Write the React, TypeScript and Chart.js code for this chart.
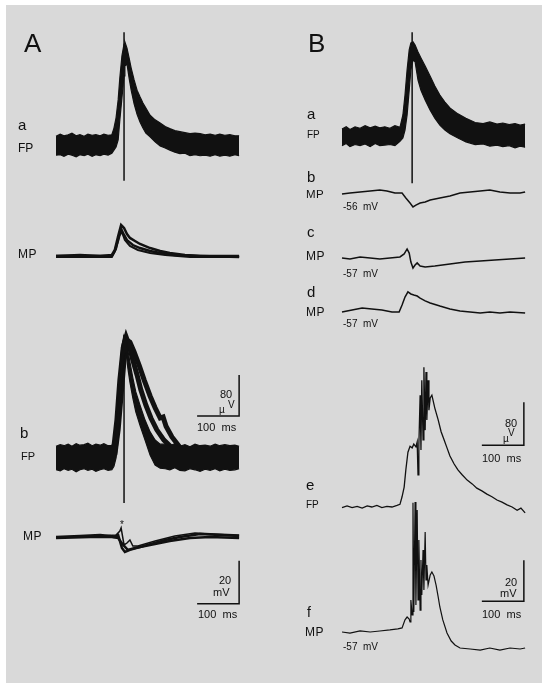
import React, { useEffect, useRef } from "react";
import { Chart, registerables } from "chart.js";

Chart.register(...registerables);

// ===================== DATA =====================
// Time in ms from the start of each sweep. FP in µV, MP in mV (relative to resting level).

// ---- Panel A · a · field potential (envelope of superimposed noisy sweeps) ----
const aaFpT = [0, 10, 19, 29, 38, 48, 57, 67, 76, 86, 95, 105, 114, 124, 133, 138, 143, 148, 152, 157, 162, 164, 169, 174, 179, 186, 193, 200, 207, 214, 224, 236, 248, 260, 271, 283, 295, 307, 319, 331, 343, 355, 367, 379, 390, 402, 414, 426, 436];
const aaFpHi = [19, 23, 20, 22, 25, 20, 22, 19, 23, 21, 22, 20, 23, 21, 22, 35, 55, 90, 133, 176, 199, 203, 191, 172, 152, 129, 109, 96, 84, 74, 60, 51, 45, 38, 34, 30, 28, 26, 24, 25, 24, 22, 23, 21, 23, 21, 22, 20, 20];
const aaFpLo = [-18, -17, -20, -16, -18, -21, -17, -19, -16, -20, -17, -19, -16, -18, -14, -8, -2, 12, 51, 94, 137, 156, 160, 133, 109, 82, 62, 47, 35, 25, 18, 8, 0, -4, -8, -12, -15, -14, -19, -17, -19, -18, -20, -17, -20, -18, -20, -17, -19];
const aaArtT = [162, 162];
const aaArtV = [222, -68];

// ---- Panel A · a · membrane potential (three superimposed sweeps) ----
const aaMp1T = [0, 57, 105, 133, 140, 148, 155, 162, 169, 176, 188, 200, 224, 248, 271, 307, 343, 390, 436];
const aaMp1V = [0, 0.5, 0, 0.5, 2.8, 9.3, 14.4, 13.0, 10.2, 8.4, 7.0, 5.6, 3.7, 2.3, 1.4, 0.5, 0, 0, 0];
const aaMp2T = [0, 133, 140, 148, 155, 162, 169, 183, 200, 224, 248, 283, 343, 436];
const aaMp2V = [0, 0, 2.3, 7.4, 12.6, 9.8, 7.4, 5.1, 3.7, 2.3, 1.4, 0.5, 0, -0.5];
const aaMp3T = [0, 133, 143, 150, 157, 164, 176, 195, 224, 260, 319, 436];
const aaMp3V = [-0.5, -0.5, 3.3, 9.3, 11.2, 7.4, 4.7, 2.8, 1.4, 0.5, -0.5, -0.5];

// ---- Panel A · b · field potential ----
const abFpT = [0, 10, 19, 29, 38, 48, 57, 67, 76, 86, 95, 105, 114, 124, 133, 138, 143, 148, 152, 157, 162, 167, 171, 176, 183, 190, 200, 212, 224, 236, 248, 260, 271, 283, 295, 307, 319, 331, 343, 355, 367, 379, 390, 402, 414, 426, 436];
const abFpHi = [23, 26, 24, 27, 23, 28, 25, 26, 29, 24, 27, 25, 28, 24, 24, 35, 64, 113, 172, 220, 240, 234, 211, 187, 156, 129, 103, 74, 51, 35, 27, 27, 24, 28, 23, 26, 22, 27, 24, 25, 23, 27, 24, 26, 24, 25, 23];
const abFpLo = [-23, -25, -21, -24, -22, -27, -23, -21, -24, -22, -26, -23, -21, -24, -23, -16, 0, 35, 94, 152, 201, 207, 176, 148, 117, 90, 64, 35, 6, -14, -20, -21, -23, -19, -24, -25, -21, -23, -26, -22, -24, -21, -25, -22, -24, -23, -21];
const abFp2T = [138, 145, 152, 160, 167, 174, 183, 193, 202, 214, 226, 240, 257, 276, 295];
const abFp2V = [23, 74, 152, 215, 236, 220, 191, 162, 133, 103, 78, 55, 35, 20, 6];
const abFp3T = [140, 148, 155, 162, 169, 176, 186, 198, 210, 224, 236, 248, 255, 262, 276, 295, 319];
const abFp3V = [6, 55, 123, 191, 230, 226, 207, 181, 152, 121, 98, 78, 80, 62, 41, 21, 6];
const abArtT = [162, 162];
const abArtV = [240, -88];

// ---- Panel A · b · membrane potential ----
const abMp1T = [0, 57, 105, 129, 138, 148, 157, 164, 176, 200, 224, 260, 295, 343, 390, 436];
const abMp1V = [0, 0.5, 0.9, 0.5, 0, 0.9, -5.1, -7.0, -6.0, -4.7, -3.3, -1.4, 0, 1.4, 0.9, 0.5];
const abMp2T = [0, 81, 133, 148, 160, 171, 188, 224, 271, 319, 367, 436];
const abMp2V = [-0.5, 0, 0, -0.5, -3.7, -6.0, -5.1, -3.7, -1.9, -0.5, 0, -0.5];
const abMp3T = [0, 105, 143, 152, 155, 162, 169, 176, 183, 195, 236, 283, 331, 379, 436];
const abMp3V = [0, 0.5, 0.9, 2.8, 4.2, -3.7, -2.8, -1.4, -4.2, -4.2, -1.9, 0.5, 1.9, 1.4, 0.9];

// ---- Panel B · a · field potential ----
const baFpT = [0, 10, 19, 31, 43, 55, 67, 79, 90, 102, 114, 126, 138, 145, 150, 155, 160, 164, 169, 174, 181, 188, 198, 210, 221, 233, 245, 257, 276, 295, 317, 336, 352, 369, 383, 398, 412, 424, 436];
const baFpHi = [15, 19, 14, 19, 16, 21, 17, 20, 17, 19, 16, 21, 18, 41, 78, 125, 162, 175, 177, 171, 158, 147, 132, 113, 95, 78, 65, 54, 43, 35, 27, 25, 28, 24, 26, 23, 25, 22, 24];
const baFpLo = [-16, -12, -18, -14, -16, -13, -18, -12, -16, -15, -14, -16, -8, -2, 13, 41, 87, 125, 143, 140, 106, 87, 69, 50, 35, 22, 13, 6, -2, -9, -14, -13, -17, -15, -18, -16, -20, -17, -19];
const baArtT = [167, 167];
const baArtV = [195, -86];

// ---- Panel B · b, c, d · membrane potential (-56, -57, -57 mV) ----
const bbMpT = [0, 19, 43, 67, 90, 107, 126, 143, 152, 162, 169, 176, 186, 198, 210, 233, 257, 281, 305, 329, 352, 376, 400, 424, 436];
const bbMpV = [-0.5, 0, 0.5, 1.0, 1.5, 1.0, 0, 0, -2.4, -4.9, -6.8, -5.9, -4.9, -4.4, -3.4, -2.4, -1.5, 0, 0.5, 1.0, 1.5, 0.5, 0, 0, 0.5];
const bcMpT = [0, 19, 43, 67, 90, 114, 138, 148, 155, 160, 164, 169, 174, 179, 186, 198, 221, 257, 293, 329, 364, 400, 436];
const bcMpV = [0, -0.5, 0.5, 0, -0.5, 0, 0.5, 2.0, 4.4, 2.4, -2.0, -4.9, -3.4, -2.4, -3.9, -4.4, -3.9, -2.9, -2.0, -1.5, -1.0, -0.5, 0];
const bdMpT = [0, 24, 48, 71, 95, 119, 136, 143, 150, 157, 164, 171, 179, 186, 198, 210, 233, 257, 281, 305, 329, 352, 376, 400, 436];
const bdMpV = [0, 1.0, 2.0, 1.5, 1.0, 0, 0, 3.4, 7.3, 9.8, 8.8, 8.3, 7.8, 6.8, 5.4, 4.4, 2.9, 1.5, 0.5, 0, -0.5, 0, -0.5, 0, -0.5];

// ---- Panel B · e · field potential ----
const beFpT = [0, 12, 24, 36, 48, 60, 71, 83, 95, 107, 119, 131, 138, 143, 148, 152, 157, 162, 167, 171, 176, 179, 181, 183, 186, 188, 190, 193, 195, 198, 200, 202, 205, 207, 210, 214, 221, 229, 236, 243, 250, 257, 267, 276, 286, 298, 310, 321, 333, 345, 357, 369, 381, 393, 405, 417, 426, 436];
const beFpV = [-1, 2, -1, 1, -2, 2, 0, 3, -1, 1, 0, 3, 5, 19, 37, 69, 102, 113, 110, 117, 112, 121, 60, 115, 208, 106, 236, 125, 260, 143, 251, 162, 236, 180, 203, 208, 184, 162, 140, 125, 110, 95, 80, 69, 60, 50, 43, 35, 30, 24, 19, 13, 9, 4, 0, -6, -2, -11];

// ---- Panel B · f · membrane potential (-57 mV) ----
const bfMpT = [0, 19, 43, 67, 90, 114, 133, 143, 150, 155, 160, 162, 164, 167, 169, 171, 174, 176, 179, 181, 183, 186, 188, 190, 193, 195, 198, 200, 202, 205, 210, 214, 219, 224, 229, 233, 240, 250, 260, 269, 281, 305, 329, 352, 376, 400, 424, 436];
const bfMpV = [0, -0.5, 0.5, 0, 0.5, 1.0, 1.5, 2.0, 5.9, 7.3, 6.3, 4.9, 15.6, 8.3, 63.0, 9.8, 63.4, 13.2, 59.5, 15.6, 44.9, 10.7, 35.1, 18.1, 40.0, 20.5, 48.8, 25.4, 32.7, 22.9, 27.8, 29.3, 27.3, 22.9, 17.1, 12.2, 5.9, -0.5, -4.4, -6.3, -7.8, -8.3, -8.8, -7.8, -8.8, -7.8, -8.3, -7.8];

// ---- Calibration bars (100 ms; 80 µV / 20 mV) ----
const barA_FpT = [336, 436, 436];
const barA_FpV = [82, 82, 162];
const barA_MpT = [336, 436, 436];
const barA_MpV = [-31, -31, -11];
const barB_FpT = [333, 433, 433];
const barB_FpV = [115, 115, 195];
const barB_MpT = [333, 433, 433];
const barB_MpV = [15, 15, 35];

// ---- Text ----
type Label = { text: string; x: number; base: number; size: number; ls?: number };
const labels: Label[] = [
  { text: "A", x: 24, base: 52, size: 26 },
  { text: "a", x: 18, base: 130, size: 15 },
  { text: "FP", x: 18, base: 152, size: 12 },
  { text: "MP", x: 18, base: 258.5, size: 12, ls: 0.5 },
  { text: "b", x: 20, base: 438, size: 15 },
  { text: "FP", x: 21, base: 460, size: 11 },
  { text: "MP", x: 23, base: 540, size: 12, ls: 0.5 },
  { text: "*", x: 120, base: 528, size: 10 },
  { text: "80", x: 220, base: 398, size: 11 },
  { text: "V", x: 228, base: 408, size: 10 },
  { text: "µ", x: 219, base: 413, size: 10 },
  { text: "100  ms", x: 197, base: 431, size: 11 },
  { text: "20", x: 219, base: 584, size: 11 },
  { text: "mV", x: 213, base: 596, size: 11 },
  { text: "100  ms", x: 198, base: 618, size: 11 },
  { text: "B", x: 308, base: 52, size: 26 },
  { text: "a", x: 307, base: 119, size: 15 },
  { text: "FP", x: 307, base: 138, size: 10 },
  { text: "b", x: 307, base: 182, size: 15 },
  { text: "MP", x: 306, base: 198.5, size: 11.5, ls: 0.5 },
  { text: "-56  mV", x: 343, base: 210, size: 10 },
  { text: "c", x: 307, base: 237, size: 15 },
  { text: "MP", x: 306, base: 260, size: 12, ls: 0.5 },
  { text: "-57  mV", x: 343, base: 277, size: 10 },
  { text: "d", x: 307, base: 297, size: 15 },
  { text: "MP", x: 306, base: 316, size: 12, ls: 0.5 },
  { text: "-57  mV", x: 343, base: 327, size: 10 },
  { text: "80", x: 505, base: 427, size: 11 },
  { text: "V", x: 508, base: 436, size: 10 },
  { text: "µ", x: 503, base: 442, size: 10 },
  { text: "100  ms", x: 482, base: 462, size: 11 },
  { text: "e", x: 306, base: 490, size: 15 },
  { text: "FP", x: 306, base: 508.5, size: 10 },
  { text: "20", x: 505, base: 586, size: 11 },
  { text: "mV", x: 500, base: 597, size: 11 },
  { text: "100  ms", x: 482, base: 618, size: 11 },
  { text: "f", x: 307, base: 617, size: 14 },
  { text: "MP", x: 305, base: 636, size: 12, ls: 0.5 },
  { text: "-57  mV", x: 343, base: 650, size: 10 },
];

// ===================== LAYOUT =====================
const W = 550;
const H = 691;
const INK = "#111111";
const PX_PER_MS = 0.42;
const FONT = "'Liberation Sans', Arial, sans-serif";

function xScale(originPx: number) {
  return {
    type: "linear",
    display: false,
    bounds: "data",
    min: -originPx / PX_PER_MS,
    max: (W - originPx) / PX_PER_MS,
  };
}
function yScale(originPx: number, pxPerUnit: number) {
  return {
    type: "linear",
    display: false,
    bounds: "data",
    min: -(H - originPx) / pxPerUnit,
    max: originPx / pxPerUnit,
  };
}

const pts = (t: number[], v: number[]) => t.map((x, i) => ({ x, y: v[i] }));

function line(t: number[], v: number[], xID: string, yID: string, width: number, extra: any = {}) {
  return {
    data: pts(t, v),
    xAxisID: xID,
    yAxisID: yID,
    showLine: true,
    borderColor: INK,
    borderWidth: width,
    pointRadius: 0,
    pointHoverRadius: 0,
    fill: false,
    tension: 0,
    ...extra,
  };
}
function band(t: number[], hi: number[], lo: number[], xID: string, yID: string) {
  return [
    line(t, hi, xID, yID, 1.2, { fill: "+1", backgroundColor: INK }),
    line(t, lo, xID, yID, 1.2),
  ];
}

export default function App() {
  const ref = useRef<HTMLCanvasElement | null>(null);

  useEffect(() => {
    if (!ref.current) return;
    const datasets: any[] = [
      // A a
      ...band(aaFpT, aaFpHi, aaFpLo, "xA", "yAaFp"),
      line(aaArtT, aaArtV, "xA", "yAaFp", 1.5),
      line(aaMp1T, aaMp1V, "xA", "yAaMp", 2.5),
      line(aaMp2T, aaMp2V, "xA", "yAaMp", 2.5),
      line(aaMp3T, aaMp3V, "xA", "yAaMp", 2),
      // A b
      ...band(abFpT, abFpHi, abFpLo, "xA", "yAbFp"),
      line(abFp2T, abFp2V, "xA", "yAbFp", 5),
      line(abFp3T, abFp3V, "xA", "yAbFp", 5),
      line(abArtT, abArtV, "xA", "yAbFp", 1.5),
      line(abMp1T, abMp1V, "xA", "yAbMp", 2.5),
      line(abMp2T, abMp2V, "xA", "yAbMp", 2.5),
      line(abMp3T, abMp3V, "xA", "yAbMp", 1.5),
      line(barA_FpT, barA_FpV, "xA", "yAbFp", 1.5),
      line(barA_MpT, barA_MpV, "xA", "yAbMp", 1.5),
      // B a
      ...band(baFpT, baFpHi, baFpLo, "xB", "yBaFp"),
      line(baArtT, baArtV, "xB", "yBaFp", 1.5),
      // B b, c, d
      line(bbMpT, bbMpV, "xB", "yBbMp", 1.5),
      line(bcMpT, bcMpV, "xB", "yBcMp", 1.5),
      line(bdMpT, bdMpV, "xB", "yBdMp", 1.5),
      // B e, f
      line(beFpT, beFpV, "xB", "yBeFp", 1.3),
      line(bfMpT, bfMpV, "xB", "yBfMp", 1.2),
      line(barB_FpT, barB_FpV, "xB", "yBeFp", 1.5),
      line(barB_MpT, barB_MpV, "xB", "yBfMp", 1.5),
    ];

    const chart = new Chart(ref.current, {
      type: "scatter",
      data: { datasets },
      options: {
        responsive: false,
        animation: false,
        events: [],
        layout: { padding: 0, autoPadding: false },
        plugins: { legend: { display: false }, tooltip: { enabled: false } },
        scales: {
          xA: xScale(56),
          xB: xScale(342),
          yAaFp: yScale(146, 41 / 80),
          yAaMp: yScale(256, 43 / 20),
          yAbFp: yScale(458, 41 / 80),
          yAbMp: yScale(537, 43 / 20),
          yBaFp: yScale(137, 43 / 80),
          yBbMp: yScale(193, 41 / 20),
          yBcMp: yScale(258, 41 / 20),
          yBdMp: yScale(312, 41 / 20),
          yBeFp: yScale(507, 43 / 80),
          yBfMp: yScale(632, 41 / 20),
        } as any,
      } as any,
    });
    return () => chart.destroy();
  }, []);

  return (
    <div style={{ position: "absolute", left: 0, top: 0, width: W, height: H, background: "#ffffff", overflow: "hidden" }}>
      <div style={{ position: "absolute", left: 6, top: 5, width: 536, height: 678, background: "#d9d9d9" }} />
      <canvas ref={ref} width={W} height={H} style={{ position: "absolute", left: 0, top: 0, width: W, height: H, display: "block" }} />
      {labels.map((l, i) => (
        <div
          key={i}
          style={{
            position: "absolute",
            left: l.x,
            top: l.base - 0.8465 * l.size,
            fontFamily: FONT,
            fontSize: l.size,
            lineHeight: `${l.size}px`,
            letterSpacing: l.ls ? `${l.ls}px` : undefined,
            color: INK,
            whiteSpace: "pre",
          }}
        >
          {l.text}
        </div>
      ))}
    </div>
  );
}
